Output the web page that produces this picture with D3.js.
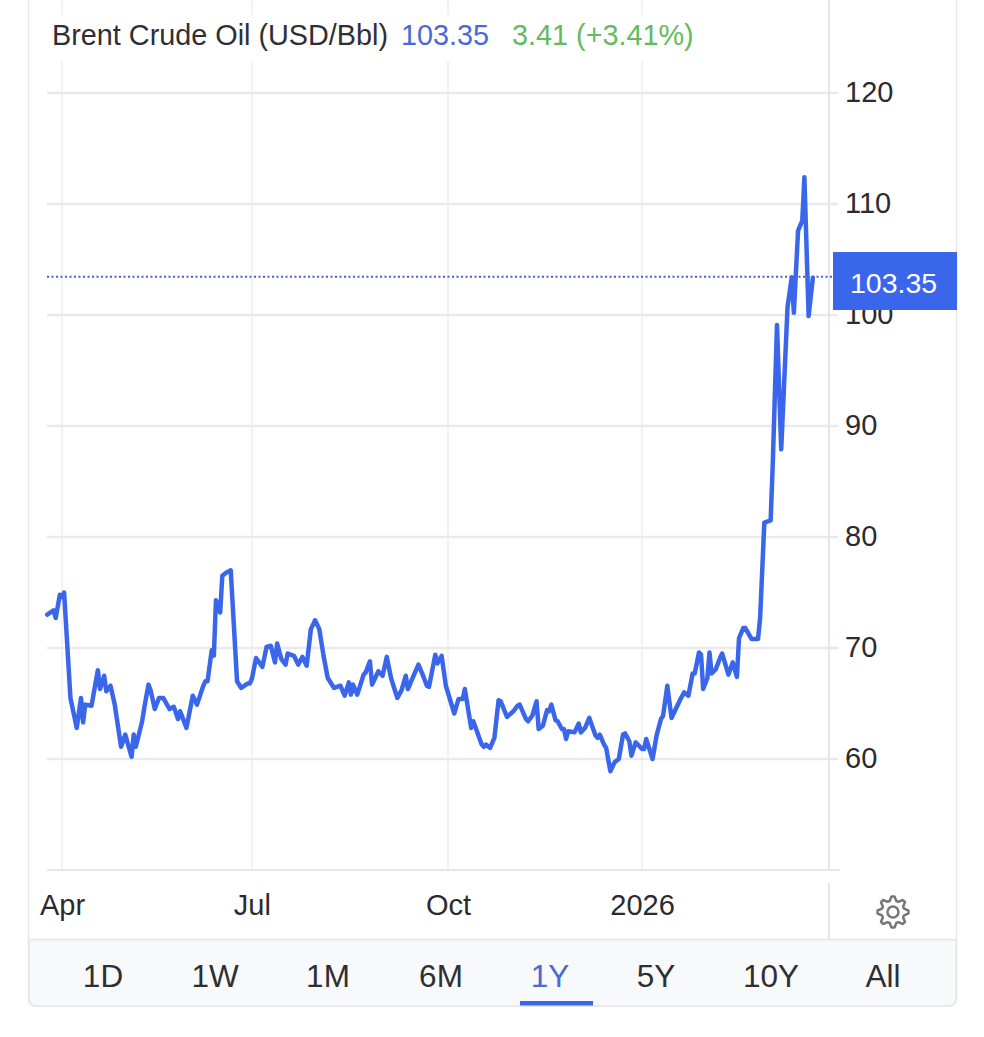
<!DOCTYPE html>
<html>
<head>
<meta charset="utf-8">
<script src="https://cdn.jsdelivr.net/npm/d3@7"></script>
<style>
  html, body { margin: 0; padding: 0; background: #fff; }
  svg { display: block; font-family: "Liberation Sans", Arial, sans-serif; }
</style>
</head>
<body>
<div id="chart"></div>
<script>
// days counted from 1 Apr 2025
const dayOffsets = [
  -7, -4, -3, -1, 0, 1, 4, 7, 9, 10, 11, 14, 17, 18, 20, 21, 23, 25, 28, 30, 33, 34, 35, 38, 39, 41, 42, 44, 46, 48,
  51, 53, 55, 56, 59, 62, 64, 67, 68, 69, 71, 72, 73, 75, 76, 78, 80, 83, 85, 88, 89, 90, 92, 95, 97, 99, 101, 102, 104, 106,
  107, 110, 112, 114, 116, 118, 120, 122, 124, 126, 129, 132, 134, 136, 137, 138, 140, 143, 144, 146, 147, 150, 152, 154, 156, 159, 161, 163, 164, 166,
  169, 171, 173, 174, 177, 178, 180, 182, 186, 188, 190, 191, 194, 195, 199, 200, 201, 203, 205, 207, 208, 211, 214, 216, 217, 220, 221, 223, 225, 226,
  228, 230, 231, 232, 234, 235, 237, 238, 239, 240, 243, 245, 246, 248, 250, 253, 254, 255, 257, 258, 260, 262, 264, 266, 267, 269, 270, 272, 273, 275,
  276, 277, 280, 282, 284, 285, 287, 289, 291, 293, 295, 297, 299, 300, 302, 303, 304, 306, 307, 308, 310, 312, 313, 316, 318, 320, 321, 323, 324, 327,
  330, 331, 333, 336, 337, 339, 341, 344, 346, 347, 349, 351, 352, 354, 356
];
const prices = [
  73.0, 73.4, 72.7, 74.8, 74.6, 75.0, 65.5, 62.8, 65.5, 63.3, 64.9, 64.8, 68.0, 66.3, 67.5, 66.1, 66.6, 64.9, 61.1, 62.2, 60.2, 62.2, 61.1, 63.4, 64.6, 66.7, 66.2, 64.5, 65.5, 65.5,
  64.5, 64.7, 63.6, 64.3, 62.8, 65.7, 64.9, 66.6, 67.0, 67.0, 69.8, 69.3, 74.3, 73.2, 76.5, 76.8, 77.0, 67.0, 66.4, 66.8, 66.8, 67.2, 69.1, 68.3, 70.1, 70.2, 68.7, 70.4, 69.0, 68.5,
  69.5, 69.3, 68.5, 69.2, 68.4, 71.7, 72.5, 71.7, 69.3, 67.3, 66.4, 66.6, 65.7, 66.9, 65.8, 66.7, 65.8, 67.6, 67.8, 68.8, 66.7, 67.9, 67.5, 69.2, 67.3, 65.5, 66.2, 67.5, 66.3, 67.2,
  68.5, 67.6, 66.6, 66.5, 69.4, 68.6, 69.3, 66.6, 64.1, 65.4, 65.4, 66.3, 62.8, 63.4, 61.3, 61.1, 61.3, 61.0, 61.9, 65.3, 65.2, 63.8, 64.3, 64.8, 64.9, 63.6, 63.4, 63.9, 65.2, 62.7,
  63.0, 64.4, 64.3, 64.9, 63.5, 63.4, 62.7, 62.7, 61.8, 62.5, 62.4, 63.2, 62.4, 62.8, 63.7, 62.1, 61.9, 62.2, 61.3, 61.0, 58.9, 59.7, 60.0, 62.2, 62.3, 61.6, 60.3, 61.5, 61.3, 60.9,
  60.9, 61.8, 60.0, 62.2, 63.6, 63.9, 66.6, 63.7, 64.5, 65.3, 66.0, 65.7, 67.7, 67.7, 69.6, 69.4, 66.3, 67.3, 69.6, 67.7, 68.1, 69.1, 69.5, 67.6, 68.7, 67.4, 70.9, 71.8, 71.8, 70.8,
  70.8, 72.7, 81.3, 81.5, 86.6, 99.1, 87.9, 100.7, 103.4, 100.2, 107.6, 108.5, 112.4, 99.9, 103.35
];
const yTicks = [60, 70, 80, 90, 100, 110, 120];
const xTickDates = ["2025-04-01", "2025-06-30", "2025-10-01", "2026-01-01"];
const xTickLabels = ["Apr", "Jul", "Oct", "2026"];
const ranges = ["1D", "1W", "1M", "6M", "1Y", "5Y", "10Y", "All"];
const rangeCenters = [103, 215, 328, 441, 550, 656, 771, 883];
const activeRange = "1Y";
const lastPrice = 103.35;
const titleName = "Brent Crude Oil (USD/Bbl)";
const titlePrice = "103.35";
const titleChange = "3.41 (+3.41%)";

const width = 984, height = 1037;
const blue = "#3a66ec";
const startDate = new Date(2025, 3, 1);
const parseDay = d3.timeParse("%Y-%m-%d");

const svg = d3.select("#chart").append("svg").attr("width", width).attr("height", height);

const x = d3.scaleTime().domain([startDate, parseDay("2026-01-01")]).range([62, 642]);
const y = d3.scaleLinear().domain([50, 120]).range([870, 93]);

// card
svg.append("rect").attr("x", 28.5).attr("y", -10).attr("width", 928).attr("height", 1016)
  .attr("rx", 7).attr("fill", "#fff").attr("stroke", "#e8e8ec").attr("stroke-width", 1.5);

// vertical grid
svg.append("g").selectAll("line").data(xTickDates).join("line")
  .attr("x1", (d) => x(parseDay(d))).attr("x2", (d) => x(parseDay(d)))
  .attr("y1", 0).attr("y2", 870)
  .attr("stroke", "#f1f2f8").attr("stroke-width", 2);

// horizontal grid, runs through the right axis as tick marks
svg.append("g").selectAll("line").data(yTicks).join("line")
  .attr("x1", 47).attr("x2", 838)
  .attr("y1", (d) => y(d)).attr("y2", (d) => y(d))
  .attr("stroke", "#e9e9ee").attr("stroke-width", 2.5);

// title sits on white, the grid stops behind it
svg.append("rect").attr("x", 47).attr("y", 15).attr("width", 780).attr("height", 46).attr("fill", "#fff");

// bottom and right axis lines
svg.append("line").attr("x1", 47).attr("x2", 840).attr("y1", 870).attr("y2", 870)
  .attr("stroke", "#e6e6ea").attr("stroke-width", 2);
svg.append("line").attr("x1", 829).attr("x2", 829).attr("y1", 0).attr("y2", 870)
  .attr("stroke", "#e6e6ea").attr("stroke-width", 2);
svg.append("line").attr("x1", 829).attr("x2", 829).attr("y1", 883).attr("y2", 939)
  .attr("stroke", "#e6e6ea").attr("stroke-width", 2);

// y labels
const yAxis = d3.axisRight(y).tickValues(yTicks).tickSize(0).tickPadding(0);
const yG = svg.append("g").attr("transform", "translate(845,-1)").call(yAxis);
yG.select(".domain").remove();
yG.selectAll("text").attr("font-size", 29).attr("fill", "#2b2b2e").attr("font-family", "Liberation Sans");

// x labels
const xAxis = d3.axisBottom(x).tickValues(xTickDates.map(parseDay))
  .tickFormat((d, i) => xTickLabels[i]).tickSize(0).tickPadding(0);
const xG = svg.append("g").attr("transform", "translate(0,894)").call(xAxis);
xG.select(".domain").remove();
xG.selectAll("text").attr("font-size", 29).attr("fill", "#2b2b2e").attr("font-family", "Liberation Sans");

// last price dotted line
svg.append("line").attr("x1", 47).attr("x2", 834).attr("y1", y(lastPrice) - 1).attr("y2", y(lastPrice) - 1)
  .attr("stroke", "#4560c4").attr("stroke-width", 2).attr("stroke-dasharray", "2 2.5");

// price line
const line = d3.line()
  .x((d, i) => x(d3.timeDay.offset(startDate, dayOffsets[i])))
  .y((d) => y(d))
  .curve(d3.curveLinear);
svg.append("path").datum(prices).attr("d", line)
  .attr("fill", "none").attr("stroke", blue).attr("stroke-width", 4.5)
  .attr("stroke-linejoin", "round").attr("stroke-linecap", "round");

// last price badge
svg.append("rect").attr("x", 833).attr("y", 252).attr("width", 124).attr("height", 58).attr("fill", blue);
svg.append("text").attr("x", 850).attr("y", 293).attr("font-size", 28.5).attr("fill", "#fff").text(lastPrice.toFixed(2));

// title
const title = svg.append("text").attr("x", 52).attr("y", 45).attr("font-size", 28.8);
title.append("tspan").attr("fill", "#2f2f33").text(titleName);
title.append("tspan").attr("x", 401).attr("fill", "#4a69d6").text(titlePrice);
title.append("tspan").attr("x", 512).attr("fill", "#63bb5c").text(titleChange);

// gear icon
const gearCx = 893, gearCy = 912, teeth = 8;
const gearPts = d3.range(teeth * 4).map((i) => {
  const a = ((i - 0.5) * Math.PI * 2) / (teeth * 4);
  const r = i % 4 < 2 ? 15.5 : 11.5;
  return [gearCx + r * Math.cos(a), gearCy + r * Math.sin(a)];
});
svg.append("path").attr("d", d3.line().curve(d3.curveLinearClosed)(gearPts))
  .attr("fill", "none").attr("stroke", "#77777b").attr("stroke-width", 2.5).attr("stroke-linejoin", "round");
svg.append("circle").attr("cx", gearCx).attr("cy", gearCy).attr("r", 5.5)
  .attr("fill", "none").attr("stroke", "#77777b").attr("stroke-width", 2.5);

// range selector footer
svg.append("path")
  .attr("d", "M29,939.5H956V999a7,7 0 0 1 -7,7H36a7,7 0 0 1 -7,-7Z")
  .attr("fill", "#f8f9fb").attr("stroke", "#e6e6ea").attr("stroke-width", 1.5);
svg.append("g").selectAll("text").data(ranges).join("text")
  .attr("x", (d, i) => rangeCenters[i]).attr("y", 987)
  .attr("text-anchor", "middle").attr("font-size", 31.5)
  .attr("fill", (d) => (d === activeRange ? "#4a69d6" : "#2f2f33"))
  .text((d) => d);
svg.append("rect").attr("x", 520).attr("y", 1001).attr("width", 73).attr("height", 4.5).attr("fill", blue);
</script>
</body>
</html>
